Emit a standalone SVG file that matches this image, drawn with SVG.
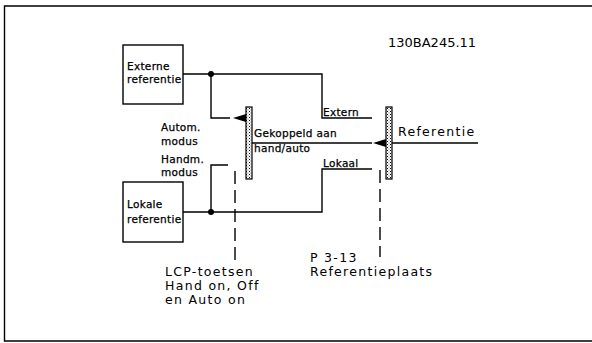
<svg xmlns="http://www.w3.org/2000/svg" width="592" height="343" viewBox="0 0 592 343">
<defs>
<style>
.ln{fill:none;stroke:#000;stroke-width:1.4}
.dash{fill:none;stroke:#000;stroke-width:1.4;stroke-dasharray:13,6}
.box{fill:#fff;stroke:#000;stroke-width:1.4}
.lbl{font-family:"DejaVu Sans",sans-serif;font-size:10.5px;letter-spacing:0.3px;fill:#000;stroke:#000;stroke-width:0.25}
.big{font-family:"DejaVu Sans",sans-serif;font-size:12.5px;letter-spacing:1.3px;fill:#000}
.code{font-family:"DejaVu Sans",sans-serif;font-size:13px;fill:#000}
.bar{fill:url(#dots);stroke:#000;stroke-width:1.2}
</style>
<pattern id="dots" width="3" height="3" patternUnits="userSpaceOnUse">
<rect width="3" height="3" fill="#fff"/>
<rect x="0" y="0" width="1" height="1" fill="#000"/>
<rect x="1.5" y="1.5" width="1" height="1" fill="#666"/>
</pattern>
</defs>
<path class="ln" d="M592,6 H4.5 V341 H592"/>
<text class="code" x="388" y="47">130BA245.11</text>
<g id="connectors">
<path class="ln" d="M183,74 H322 V118 H372"/>
<path class="ln" d="M211,74 V118 H230"/>
<polygon points="233,118 246,114 246,122" fill="#000"/>
<path class="ln" d="M183,212 H322 V169 H372"/>
<path class="ln" d="M211,212 V165 H228"/>
<path class="ln" d="M252,143 H372"/>
<polygon points="373,143 386,139 386,147" fill="#000"/>
<path class="ln" d="M392,143 H478"/>
<circle cx="211" cy="74" r="3" fill="#000"/>
<circle cx="211" cy="212" r="3" fill="#000"/>
<path class="dash" d="M235,171 V262"/>
<path class="dash" d="M380,170 V257"/>
</g>
<g id="externe">
<rect class="box" x="123" y="45" width="60" height="59"/>
<text class="lbl" x="127" y="70">Externe</text>
<text class="lbl" x="127" y="83">referentie</text>
</g>
<g id="lokale">
<rect class="box" x="123" y="182" width="60" height="60"/>
<text class="lbl" x="127" y="208">Lokale</text>
<text class="lbl" x="127" y="223">referentie</text>
</g>
<g id="switch1">
<rect class="bar" x="246" y="107" width="6" height="72"/>
<text class="lbl" x="254" y="137">Gekoppeld aan</text>
<text class="lbl" x="254" y="152">hand/auto</text>
</g>
<g id="switch2">
<rect class="bar" x="386" y="107" width="6" height="72"/>
<text class="big" x="398" y="136">Referentie</text>
</g>
<g id="labels">
<text class="lbl" x="161" y="131">Autom.</text>
<text class="lbl" x="161" y="145">modus</text>
<text class="lbl" x="161" y="163">Handm.</text>
<text class="lbl" x="161" y="176">modus</text>
<text class="lbl" x="323" y="116">Extern</text>
<text class="lbl" x="323" y="167">Lokaal</text>
<text class="big" x="165" y="276">LCP-toetsen</text>
<text class="big" x="165" y="290">Hand on, Off</text>
<text class="big" x="165" y="304">en Auto on</text>
<text class="big" x="310" y="262">P 3-13</text>
<text class="big" x="310" y="276">Referentieplaats</text>
</g>
</svg>
